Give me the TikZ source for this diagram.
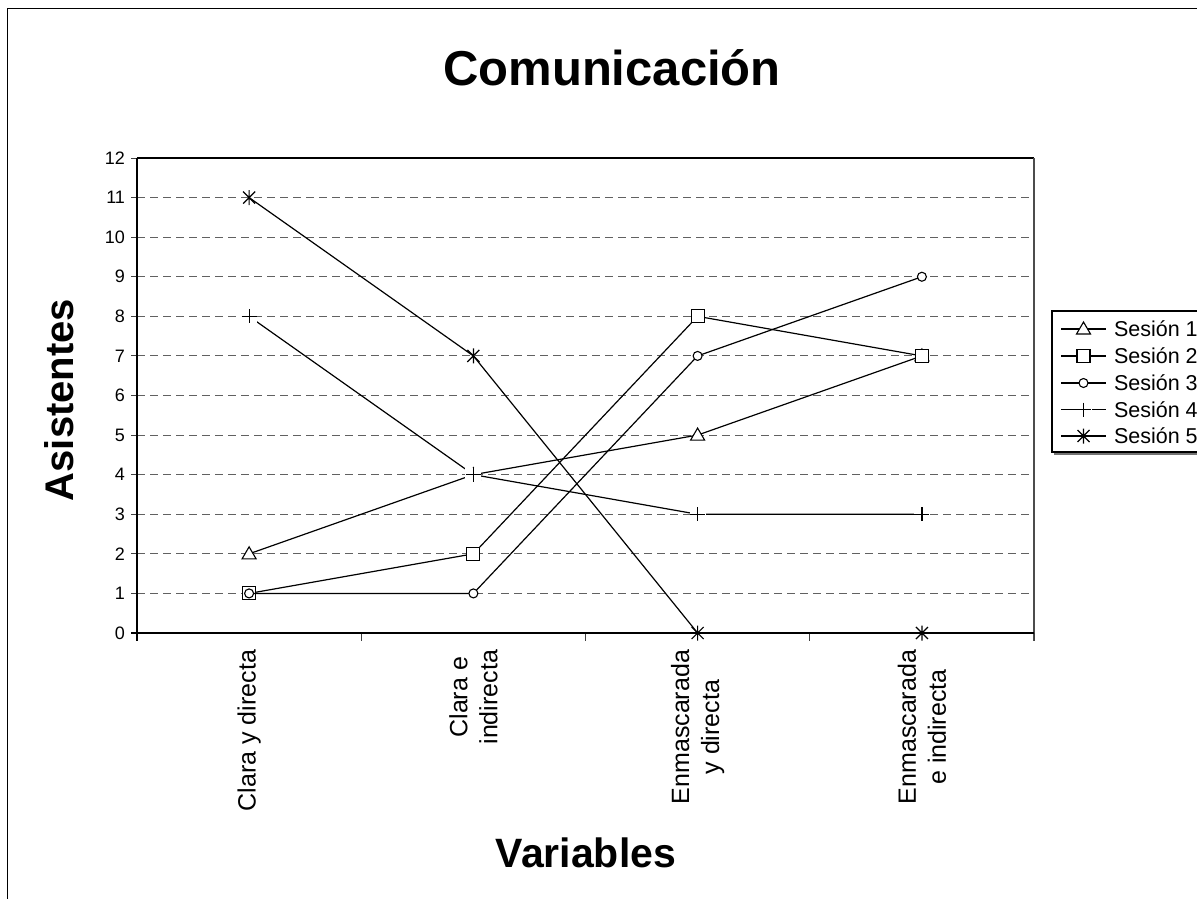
\documentclass[tikz,border=0pt]{standalone}
\usepackage{fontspec}
\setmainfont{Liberation Sans}
\newcommand\vy[1]{633-39.5833*#1}
\tikzset{
  mtri/.pic={\draw[line width=1.1pt, fill=white, line join=miter] (-7,5) -- (7,5) -- (0,-7) -- cycle;},
  msq/.pic={\draw[line width=1.1pt, fill=white] (-6.5,-6.5) rectangle (6.5,6.5);},
  mcirc/.pic={\draw[line width=1.1pt, fill=white] (0,0) circle (4.5pt);},
  mplus/.pic={\fill[white] (-8,-7) rectangle (8,7); \draw[line width=1.2pt] (-7.5,0) -- (7.5,0) (0,-7) -- (0,7);},
  mstar/.pic={\draw[line width=1.2pt] (-6,-6) -- (6,6) (-6,6) -- (6,-6) (0,-7.5) -- (0,7.5);},
}
\begin{document}
\begin{tikzpicture}[x=1pt,y=-1pt,
  every node/.style={inner sep=0pt, outer sep=0pt},
  datal/.style={line width=1.2pt, black, line join=miter},
  gridl/.style={line width=1pt, black!62, dash pattern=on 8pt off 5pt},
  axisl/.style={line width=1.8pt, black},
  tickl/.style={line width=1pt, black!75},
  ticklab/.style={anchor=east, font=\fontsize{18}{20}\selectfont},
  catlab/.style={anchor=east, rotate=90, align=center, font=\fontsize{25}{30}\selectfont},
  legtxt/.style={anchor=west, font=\fontsize{21.5}{24}\selectfont},
  ttl/.style={font=\fontsize{49}{56}\selectfont\bfseries, anchor=base},
  axttl/.style={font=\fontsize{40}{46}\selectfont\bfseries, anchor=base},
]
\useasboundingbox (0,0) rectangle (1197,899);
% outer chart frame (left and top visible)
\draw[line width=1.5pt] (7.5,899) -- (7.5,8.5) -- (1197,8.5);

% title and axis titles
\node[ttl] (title) at (612,85) {Comunicación};
\node[axttl, rotate=90] (ytitle) at (73,400) {Asistentes};
\node[axttl, font=\fontsize{41}{46}\selectfont\bfseries] (xtitle) at (586,867) {Variables};

% gridlines
\foreach \v in {1,...,11} {
  \draw[gridl] (137,{\vy{\v}}) -- (1034,{\vy{\v}});
}
% plot frame
\draw[line width=1.2pt, black] (137,158) -- (1034,158);
\draw[line width=1.2pt, black!70] (1034,158) -- (1034,641);
% y ticks and labels
\foreach \v in {0,...,12} {
  \draw[tickl] (131,{\vy{\v}}) -- (137,{\vy{\v}});
  \node[ticklab] (yl\v) at (125,{\vy{\v}}) {\v};
}
% x ticks
\foreach \x in {137,361.25,585.5,809.75,1034} {
  \draw[tickl] (\x,633) -- (\x,641);
}
% axes
\draw[axisl] (137,158) -- (137,641);
\draw[axisl] (131,633) -- (1034,633);

% category labels
\node[catlab] (c1) at (249.1,650) {Clara y directa};
\node[catlab] (c2) at (473.4,650) {Clara e\\indirecta};
\node[catlab] (c3) at (697.6,650) {Enmascarada\\y directa};
\node[catlab] (c4) at (921.9,650) {Enmascarada\\e indirecta};

% data points
\coordinate (a1) at (249.1,{\vy{2}});
\coordinate (a2) at (473.4,{\vy{4}});
\coordinate (a3) at (697.6,{\vy{5}});
\coordinate (a4) at (921.9,{\vy{7}});
\coordinate (b1) at (249.1,{\vy{1}});
\coordinate (b2) at (473.4,{\vy{2}});
\coordinate (b3) at (697.6,{\vy{8}});
\coordinate (b4) at (921.9,{\vy{7}});
\coordinate (d1) at (249.1,{\vy{1}});
\coordinate (d2) at (473.4,{\vy{1}});
\coordinate (d3) at (697.6,{\vy{7}});
\coordinate (d4) at (921.9,{\vy{9}});
\coordinate (e1) at (249.1,{\vy{8}});
\coordinate (e2) at (473.4,{\vy{4}});
\coordinate (e3) at (697.6,{\vy{3}});
\coordinate (e4) at (921.9,{\vy{3}});
\coordinate (f1) at (249.1,{\vy{11}});
\coordinate (f2) at (473.4,{\vy{7}});
\coordinate (f3) at (697.6,{\vy{0}});
\coordinate (f4) at (921.9,{\vy{0}});

% Sesion 1
\draw[datal] (a1) -- (a2) -- (a3) -- (a4);
\foreach \p in {a1,a2,a3,a4} \pic at (\p) {mtri};
% Sesion 2
\draw[datal] (b1) -- (b2) -- (b3) -- (b4);
\foreach \p in {b1,b2,b3,b4} \pic at (\p) {msq};
% Sesion 3
\draw[datal] (d1) -- (d2) -- (d3) -- (d4);
\foreach \p in {d1,d2,d3,d4} \pic at (\p) {mcirc};
% Sesion 4
\draw[datal] (e1) -- (e2) -- (e3) -- (e4);
\foreach \p in {e1,e2,e3,e4} \pic at (\p) {mplus};
% Sesion 5
\draw[datal] (f1) -- (f2) -- (f3) -- (f4);
\foreach \p in {f1,f2,f3,f4} \pic at (\p) {mstar};

% legend
\draw[line width=1.2pt, black] (1197,311) -- (1052,311) -- (1052,452) -- (1197,452);
\draw[line width=1.2pt, black!55] (1054,454) -- (1197,454);
\foreach \i/\m/\yy in {1/mtri/329,2/msq/356,3/mcirc/383,4/mplus/409.5,5/mstar/436} {
  \coordinate (l\i a) at (1061,\yy);
  \coordinate (l\i b) at (1106,\yy);
  \coordinate (l\i m) at (1083.5,\yy);
  \draw[datal] (l\i a) -- (l\i b);
  \pic at (l\i m) {\m};
  \node[legtxt] (lt\i) at (1114,\yy) {Sesión \i};
}
\end{tikzpicture}
\end{document}
